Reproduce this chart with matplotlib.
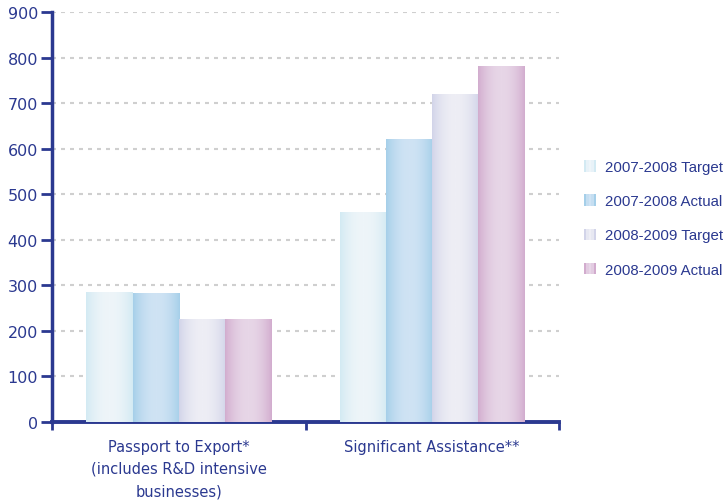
import numpy as np
import matplotlib
matplotlib.use("Agg")
import matplotlib.pyplot as plt
from matplotlib.colors import LinearSegmentedColormap
from matplotlib.legend_handler import HandlerBase
from matplotlib.patches import Rectangle

# programme results, targets vs actuals
categories = ["Passport to Export*\n(includes R&D intensive\nbusinesses)",
              "Significant Assistance**"]
series = ["2007-2008 Target", "2007-2008 Actual",
          "2008-2009 Target", "2008-2009 Actual"]
target_0708 = [285, 459]
actual_0708 = [281, 621]
target_0809 = [224, 718]
actual_0809 = [224, 781]
values = [target_0708, actual_0708, target_0809, actual_0809]

# (edge colour, centre colour) for the shaded bars
shades = [("#d3eaf3", "#eef5f9"),
          ("#a5cfe9", "#cfe3f4"),
          ("#d2d4e9", "#eeeef5"),
          ("#d2acce", "#e7d6e7")]

NAVY = "#2b3990"


def gradient_row(n=64):
    t = np.linspace(0, 1, n)
    return np.sin(np.pi * t) ** 0.8


class StripeHandler(HandlerBase):
    def __init__(self, edge, mid):
        super().__init__()
        self.edge, self.mid = edge, mid

    def create_artists(self, legend, orig_handle, xdescent, ydescent,
                       width, height, fontsize, trans):
        cmap = LinearSegmentedColormap.from_list("g", [self.edge, self.mid])
        g = gradient_row(5)
        w = width / len(g)
        arts = []
        for i, v in enumerate(g):
            arts.append(Rectangle((-xdescent + i * w, -ydescent), w * 1.05, height,
                                  facecolor=cmap(v), edgecolor="none",
                                  transform=trans))
        return arts


fig = plt.figure(figsize=(7.27, 5.02), dpi=100)
ax = fig.add_axes([52 / 727, 1 - 423 / 502, 507 / 727, 410 / 502])

x = np.arange(len(categories))
width = 0.182
offsets = (np.arange(len(series)) - 1.5) * width

handles = []
for vals, off, (edge, mid), name in zip(values, offsets, shades, series):
    bars = ax.bar(x + off, vals, width, color=edge, linewidth=0, zorder=2, label=name)
    handles.append(bars[0])
    cmap = LinearSegmentedColormap.from_list("g", [edge, mid])
    for b in bars:
        x0, h = b.get_x(), b.get_height()
        ax.imshow(gradient_row()[None, :], cmap=cmap, vmin=0, vmax=1,
                  extent=(x0, x0 + b.get_width(), 0, h), aspect="auto",
                  interpolation="bilinear", zorder=3)

ax.set_xlim(-0.5, 1.5)
ax.set_ylim(0, 900)
ax.set_yticks(np.arange(0, 901, 100))
ax.set_xticks([-0.5, 0.5, 1.5])
ax.set_xticklabels([])
ax.set_xticks(x, minor=True)
ax.set_xticklabels(categories, minor=True, fontsize=10.5, color=NAVY,
                   linespacing=1.6)
ax.tick_params(axis="x", which="minor", length=0, pad=12)
ax.tick_params(axis="x", which="major", length=6, width=2, color=NAVY)
ax.tick_params(axis="y", length=8, width=2, color=NAVY, pad=2,
               labelsize=11.5, labelcolor=NAVY)

ax.set_axisbelow(True)
ax.yaxis.grid(True, color="#cfcfcf", linewidth=1.5, linestyle=(0, (1.92, 2.4)))

for s in ("top", "right"):
    ax.spines[s].set_visible(False)
ax.spines["left"].set_color(NAVY)
ax.spines["left"].set_linewidth(2.5)
ax.spines["bottom"].set_color(NAVY)
ax.spines["bottom"].set_linewidth(2.8)

hmap = {h: StripeHandler(e, m) for h, (e, m) in zip(handles, shades)}
leg = fig.legend(handles, series, loc="upper left",
                 bbox_to_anchor=(578 / 727, 1 - 155 / 502),
                 frameon=False, handler_map=hmap,
                 prop={"family": "Liberation Sans", "size": 10.8},
                 handlelength=0.8, handleheight=0.8, handletextpad=0.6,
                 labelspacing=1.35, borderaxespad=0)
for t in leg.get_texts():
    t.set_color(NAVY)

fig.savefig("out.png", dpi=100)
